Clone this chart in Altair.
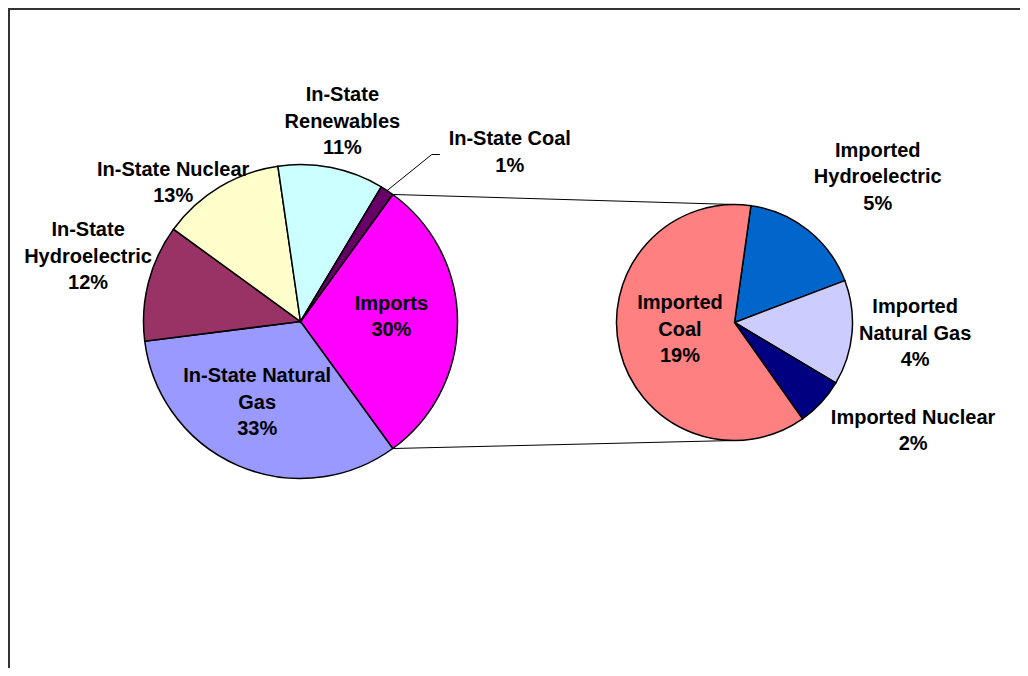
import math
import altair as alt
import pandas as pd

# ---------------- data ----------------
main_categories = ["Imports", "In-State Natural Gas", "In-State Hydroelectric",
                   "In-State Nuclear", "In-State Renewables", "In-State Coal"]
main_values = [30.0, 33.0, 12.0, 12.7, 10.9, 1.4]
main_label_lines = ["Imports", "In-State Natural\nGas", "In-State\nHydroelectric",
                    "In-State Nuclear", "In-State\nRenewables", "In-State Coal"]
main_colors = ["#FF00FF", "#9999FF", "#993366", "#FFFFCC", "#CCFFFF", "#660066"]

imp_categories = ["Imported Hydroelectric", "Imported Natural Gas",
                  "Imported Nuclear", "Imported Coal"]
imp_values = [5.1, 4.3, 2.0, 18.6]
imp_label_lines = ["Imported\nHydroelectric", "Imported\nNatural Gas",
                   "Imported Nuclear", "Imported\nCoal"]
imp_colors = ["#0066CC", "#CCCCFF", "#000080", "#FF8080"]

# ---------------- layout ----------------
W, H = 1012, 660
MAIN_C = (292.5, 313.5)
MAIN_R = 157
SEC_C = (726.5, 314.5)
SEC_R = 118
SEC_START_DEG = 8.0
LINE_H = 26.5
# label placement: (distance from centre, angular nudge from slice middle)
main_label_pos = [(91, -2.8), (92, 4.7), (222, 2.5), (188, -11.5), (204, 0.5), (269, 17.6)]
sec_label_pos = [(204, 6), (181, -1.4), (209, -11.5), (55, 5.8)]
FONT = "Liberation Sans, Arial, sans-serif"


def pol(c, r, deg):
    a = math.radians(deg)
    return c[0] + r * math.sin(a), c[1] - r * math.cos(a)


def slice_angles(values, start_deg):
    total = sum(values)
    out, acc = [], start_deg
    for v in values:
        span = v / total * 360.0
        out.append((acc, acc + span))
        acc += span
    return out


main_total = sum(main_values)
# the "Imports" slice is centred at 3 o'clock
MAIN_START_DEG = 90.0 - main_values[0] / main_total * 180.0
main_ang = slice_angles(main_values, MAIN_START_DEG)
sec_ang = slice_angles(imp_values, SEC_START_DEG)


def pie(categories, values, colors, center, radius, start_deg):
    df = pd.DataFrame({"category": categories, "value": values,
                       "order": list(range(len(values)))})
    start = math.radians(start_deg)
    return alt.Chart(df).mark_arc(radius=radius, stroke="black", strokeWidth=1.5).encode(
        theta=alt.Theta("value:Q", stack=True,
                        scale=alt.Scale(range=[start, start + 2 * math.pi])),
        color=alt.Color("category:N", scale=alt.Scale(domain=categories, range=colors),
                        legend=None),
        order=alt.Order("order:Q"),
        x=alt.value(center[0]),
        y=alt.value(center[1]),
    )


main_pie = pie(main_categories, main_values, main_colors, MAIN_C, MAIN_R, MAIN_START_DEG)
sec_pie = pie(imp_categories, imp_values, imp_colors, SEC_C, SEC_R, SEC_START_DEG)


def label_row(center, lines, v, ang, pos):
    (a0, a1), (d, nudge) = ang, pos
    x, y = pol(center, d, (a0 + a1) / 2 + nudge)
    text = f"{lines}\n{round(v / main_total * 100)}%"
    n = text.count("\n") + 1
    # centre the whole text block on the anchor
    return {"x": x, "y": y - (n - 1) * LINE_H / 2, "cy": y, "text": text}


rows = []
for lines, v, ang, pos in zip(main_label_lines, main_values, main_ang, main_label_pos):
    rows.append(label_row(MAIN_C, lines, v, ang, pos))
for lines, v, ang, pos in zip(imp_label_lines, imp_values, sec_ang, sec_label_pos):
    rows.append(label_row(SEC_C, lines, v, ang, pos))
labels_df = pd.DataFrame(rows)

labels = alt.Chart(labels_df).mark_text(
    font=FONT, fontSize=20, fontWeight="bold", lineBreak="\n", lineHeight=LINE_H,
    align="center", baseline="middle", color="black"
).encode(
    x=alt.X("x:Q", scale=None, axis=None),
    y=alt.Y("y:Q", scale=None, axis=None),
    text="text:N",
)

# connector lines between the Imports slice and the secondary pie
seg = []
p0 = pol(MAIN_C, MAIN_R, main_ang[0][0])
q0 = pol(SEC_C, SEC_R, 0)
p1 = pol(MAIN_C, MAIN_R, main_ang[0][1])
q1 = pol(SEC_C, SEC_R, 180)
seg.append({"x": p0[0], "y": p0[1], "x2": q0[0], "y2": q0[1]})
seg.append({"x": p1[0], "y": p1[1], "x2": q1[0], "y2": q1[1]})
# leader line for the small In-State Coal slice
coal_mid = (main_ang[5][0] + main_ang[5][1]) / 2
rim = pol(MAIN_C, MAIN_R, coal_mid)
lab = rows[5]
end = (lab["x"] - 70, lab["cy"] + 2)
elbow = (end[0] - 8, end[1])
seg.append({"x": rim[0], "y": rim[1], "x2": elbow[0], "y2": elbow[1]})
seg.append({"x": elbow[0], "y": elbow[1], "x2": end[0], "y2": end[1]})
seg_df = pd.DataFrame(seg)

connectors = alt.Chart(seg_df).mark_rule(color="black", strokeWidth=1).encode(
    x=alt.X("x:Q", scale=None, axis=None),
    y=alt.Y("y:Q", scale=None, axis=None),
    x2="x2:Q",
    y2="y2:Q",
)

frame_top = alt.Chart(pd.DataFrame({"k": [0]})).mark_rule(color="#333333", strokeWidth=2).encode(
    x=alt.value(0), x2=alt.value(W), y=alt.value(1)
)
frame_left = alt.Chart(pd.DataFrame({"k": [0]})).mark_rule(color="#333333", strokeWidth=2).encode(
    x=alt.value(1), y=alt.value(0), y2=alt.value(H)
)

chart = alt.layer(
    connectors, main_pie, sec_pie, labels, frame_top, frame_left
).resolve_scale(
    theta="independent", color="independent"
).properties(
    width=W, height=H, padding=0, autosize="none", background="white"
).configure_view(stroke=None)

chart.save("out.html", embed_options={"renderer": "svg", "actions": False})
